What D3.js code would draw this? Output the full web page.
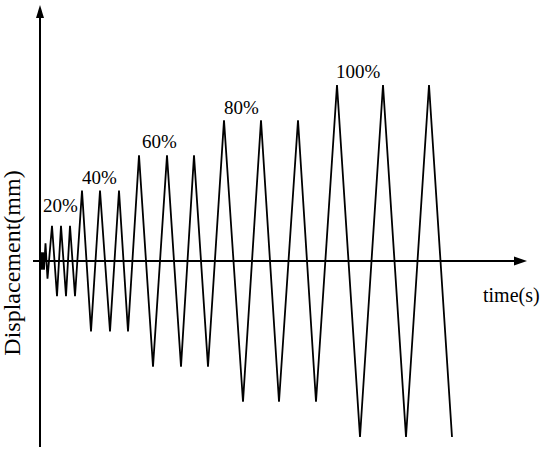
<html lang="en">
<head>
<meta charset="UTF-8">
<script src="https://d3js.org/d3.v7.min.js"></script>
<style>
  body { margin: 0; background: #fff; }
  text { font-family: "Liberation Serif", "Times New Roman", serif; fill: #000; }
</style>
</head>
<body>
<div id="chart"></div>
<script>
// loading protocol: time (s) and displacement (% of max amplitude) at each turning point
var times = [0, 1, 2, 3, 4, 5.5, 7.5, 12, 17, 21, 26, 30, 35,
  42, 51, 60, 70, 79, 88,
  99, 113, 127, 141, 154, 168,
  184, 203, 221, 239, 258, 276,
  297, 320, 343, 366, 389, 412];
var disp = [0, 5, -5, 5, -5, 10, -10, 20, -20, 20, -20, 20, -20,
  40, -40, 40, -40, 40, -40,
  60, -60, 60, -60, 60, -60,
  80, -80, 80, -80, 80, -80,
  100, -100, 100, -100, 100, -100];

var levelLabels = ["20%", "40%", "60%", "80%", "100%"];
var labelTimes = [3, 42, 102, 184, 296];
var labelDisp = [28, 44, 64, 83.5, 104];

var data = times.map(function (t, i) { return { t: t, d: disp[i] }; });

const svg = d3.select("#chart")
  .append("svg")
  .attr("width", 550)
  .attr("height", 453);

var x_scale = d3.scaleLinear()
  .domain([0, 485])
  .range([40, 525]);

var y_scale = d3.scaleLinear()
  .domain([-100, 100])
  .range([437, 85]);

// axes
var y0 = y_scale(0);
svg.append("line")
  .attr("x1", 33).attr("x2", 517)
  .attr("y1", y0).attr("y2", y0)
  .attr("stroke", "#000").attr("stroke-width", 2);
svg.append("path")
  .attr("d", "M527," + y0 + " L514," + (y0 - 4.5) + " L514," + (y0 + 4.5) + " Z")
  .attr("fill", "#000");

var x0 = x_scale(0);
svg.append("line")
  .attr("x1", x0).attr("x2", x0)
  .attr("y1", 447).attr("y2", 15)
  .attr("stroke", "#000").attr("stroke-width", 2);
svg.append("path")
  .attr("d", "M" + x0 + ",5 L" + (x0 - 4) + ",18 L" + (x0 + 4) + ",18 Z")
  .attr("fill", "#000");

// zigzag
var line = d3.line()
  .x(function (d) { return x_scale(d.t); })
  .y(function (d) { return y_scale(d.d); });

svg.append("path")
  .datum(data)
  .attr("d", line)
  .attr("fill", "none")
  .attr("stroke", "#000")
  .attr("stroke-width", 1.8)
  .attr("stroke-linejoin", "miter");

// level labels
svg.selectAll(".lvl")
  .data(levelLabels)
  .enter()
  .append("text")
  .attr("class", "lvl")
  .attr("x", function (d, i) { return x_scale(labelTimes[i]); })
  .attr("y", function (d, i) { return y_scale(labelDisp[i]); })
  .style("font-size", "19px")
  .text(function (d) { return d; });

// axis titles
svg.append("text")
  .attr("x", 483)
  .attr("y", 302)
  .style("font-size", "20px")
  .text("time(s)");

svg.append("text")
  .attr("transform", "translate(20, 263) rotate(-90)")
  .attr("text-anchor", "middle")
  .style("font-size", "24px")
  .text("Displacement(mm)");
</script>
</body>
</html>
